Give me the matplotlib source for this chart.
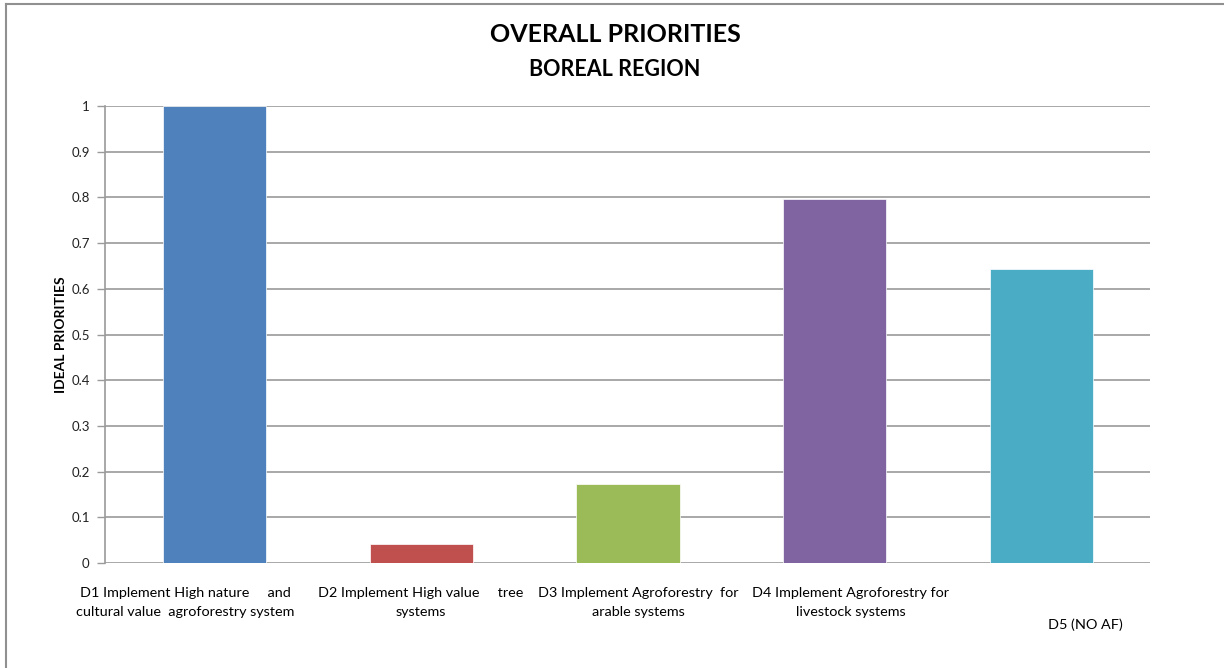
import matplotlib
matplotlib.use("Agg")
import matplotlib.pyplot as plt
from matplotlib.lines import Line2D

plt.rcParams['font.family'] = ['Lato', 'DejaVu Sans']

# overall priorities per decision alternative
labels = [
    "D1 Implement High nature     and\ncultural value  agroforestry system",
    "D2 Implement High value     tree\nsystems",
    "D3 Implement Agroforestry  for\narable systems",
    "D4 Implement Agroforestry for\nlivestock systems",
    "D5 (NO AF)",
]
priorities = [1.0, 0.042, 0.173, 0.797, 0.643]
colors = ["#4F81BD", "#C0504D", "#9BBB59", "#8064A2", "#4BACC6"]
yticks = [0, 0.1, 0.2, 0.3, 0.4, 0.5, 0.6, 0.7, 0.8, 0.9, 1]
ytick_labels = ["0", "0.1", "0.2", "0.3", "0.4", "0.5", "0.6", "0.7", "0.8", "0.9", "1"]

fig = plt.figure(figsize=(12.24, 6.68), dpi=100)
ax = fig.add_axes([105/1224, 1-563/668, 1045/1224, 457/668])

x = list(range(len(priorities)))
ax.bar(x, priorities, width=0.5, color=colors, edgecolor="white", linewidth=0.5, zorder=3)

ax.set_xlim(-0.53, 4.525)
ax.set_ylim(0, 1)
ax.set_yticks(yticks)
ax.set_yticklabels(ytick_labels, fontsize=9.5, color="#222222")
ax.tick_params(axis='y', length=6, width=1, color="#9a9a9a", pad=5)
ax.set_xticks([])
ax.grid(axis='y', color="#9a9a9a", linewidth=1.2, zorder=0)
for s in ["top", "right", "bottom"]:
    ax.spines[s].set_visible(False)
ax.spines["left"].set_color("#9a9a9a")
ax.spines["left"].set_linewidth(1.2)

ax.set_ylabel("IDEAL PRIORITIES", fontsize=10, fontweight="bold", labelpad=3)

# category labels sit under the bars with small shifts
shifts = [(-29, -24), (-1, -24), (10, -24), (16, -24), (44, -55)]
for i, (lab, (dx, dy)) in enumerate(zip(labels, shifts)):
    ax.annotate(lab, xy=(i, 0), xytext=(dx, dy), textcoords="offset pixels",
                ha="center", va="top", fontsize=10.4, linespacing=1.75)

fig.text(615/1224, 1-35/668, "OVERALL PRIORITIES", ha="center", va="center",
         fontsize=18, fontweight="bold")
fig.text(615/1224, 1-69/668, "BOREAL REGION", ha="center", va="center",
         fontsize=15.5, fontweight="bold")

# outer frame
fig.add_artist(Line2D([6/1224, 1], [1-4/668, 1-4/668], transform=fig.transFigure, color="#909090", lw=1.5))
fig.add_artist(Line2D([6/1224, 6/1224], [0, 1-4/668], transform=fig.transFigure, color="#909090", lw=1.5))

fig.savefig("out.png", dpi=100)
